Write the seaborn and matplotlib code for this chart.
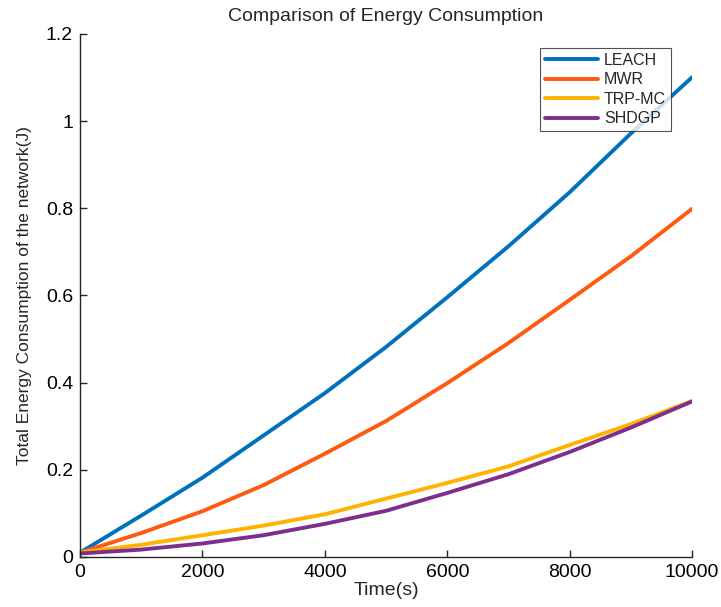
import numpy as np
import pandas as pd
import matplotlib
matplotlib.use("Agg")
import matplotlib.pyplot as plt
import seaborn as sns

time_s = [0, 1000, 2000, 3000, 4000, 5000, 6000, 7000, 8000, 9000, 10000]
leach = [0.01, 0.095, 0.182, 0.279, 0.376, 0.482, 0.596, 0.713, 0.837, 0.972, 1.101]
mwr = [0.01, 0.055, 0.105, 0.165, 0.237, 0.312, 0.399, 0.491, 0.590, 0.690, 0.799]
trpmc = [0.01, 0.028, 0.050, 0.072, 0.098, 0.134, 0.170, 0.208, 0.257, 0.305, 0.358]
shdgp = [0.008, 0.017, 0.031, 0.050, 0.076, 0.106, 0.147, 0.190, 0.241, 0.297, 0.357]
series_names = ["LEACH", "MWR", "TRP-MC", "SHDGP"]
colors = ["#0072BD", "#FF5A10", "#FFB300", "#7E2F8E"]

rows = []
for name, vals in zip(series_names, [leach, mwr, trpmc, shdgp]):
    for t, v in zip(time_s, vals):
        rows.append({"Time": t, "Energy": v, "Method": name})
df = pd.DataFrame(rows)

sns.set_style("white")
plt.rcParams['font.family'] = ['Liberation Sans', 'DejaVu Sans']

fig = plt.figure(figsize=(7.21, 6.07), dpi=100)
ax = fig.add_axes([0.111, 0.0824, 0.849, 0.8616])
sns.lineplot(data=df, x="Time", y="Energy", hue="Method", hue_order=series_names,
             palette=colors, linewidth=2.8, ax=ax)

ax.set_xlim(0, 10000)
ax.set_ylim(0, 1.2)
ax.set_xticks([0, 2000, 4000, 6000, 8000, 10000])
ax.set_yticks([0, 0.2, 0.4, 0.6, 0.8, 1.0, 1.2])
ax.set_yticklabels(["0", "0.2", "0.4", "0.6", "0.8", "1", "1.2"])
ax.tick_params(direction="in", length=5, width=1, labelsize=14, colors="#262626",
               labelcolor="black", left=True, bottom=True, pad=5)
for s in ["top", "right"]:
    ax.spines[s].set_visible(False)
for s in ["left", "bottom"]:
    ax.spines[s].set_color("#262626")
    ax.spines[s].set_linewidth(1)

ax.set_title("Comparison of Energy Consumption", fontsize=14, pad=9)
ax.set_xlabel("Time(s)", fontsize=14, labelpad=1)
ax.set_ylabel("Total Energy Consumption of the network(J)", fontsize=12.5, labelpad=10)

leg = ax.legend(loc="upper right", bbox_to_anchor=(0.973, 0.982), fontsize=11.5,
                frameon=True, fancybox=False, edgecolor="#262626",
                handlelength=3.3, handletextpad=0.4, borderpad=0.3, labelspacing=0.28,
                borderaxespad=0.3)
leg.get_frame().set_linewidth(0.8)
leg.set_title(None)

fig.savefig("out.png", dpi=100)
